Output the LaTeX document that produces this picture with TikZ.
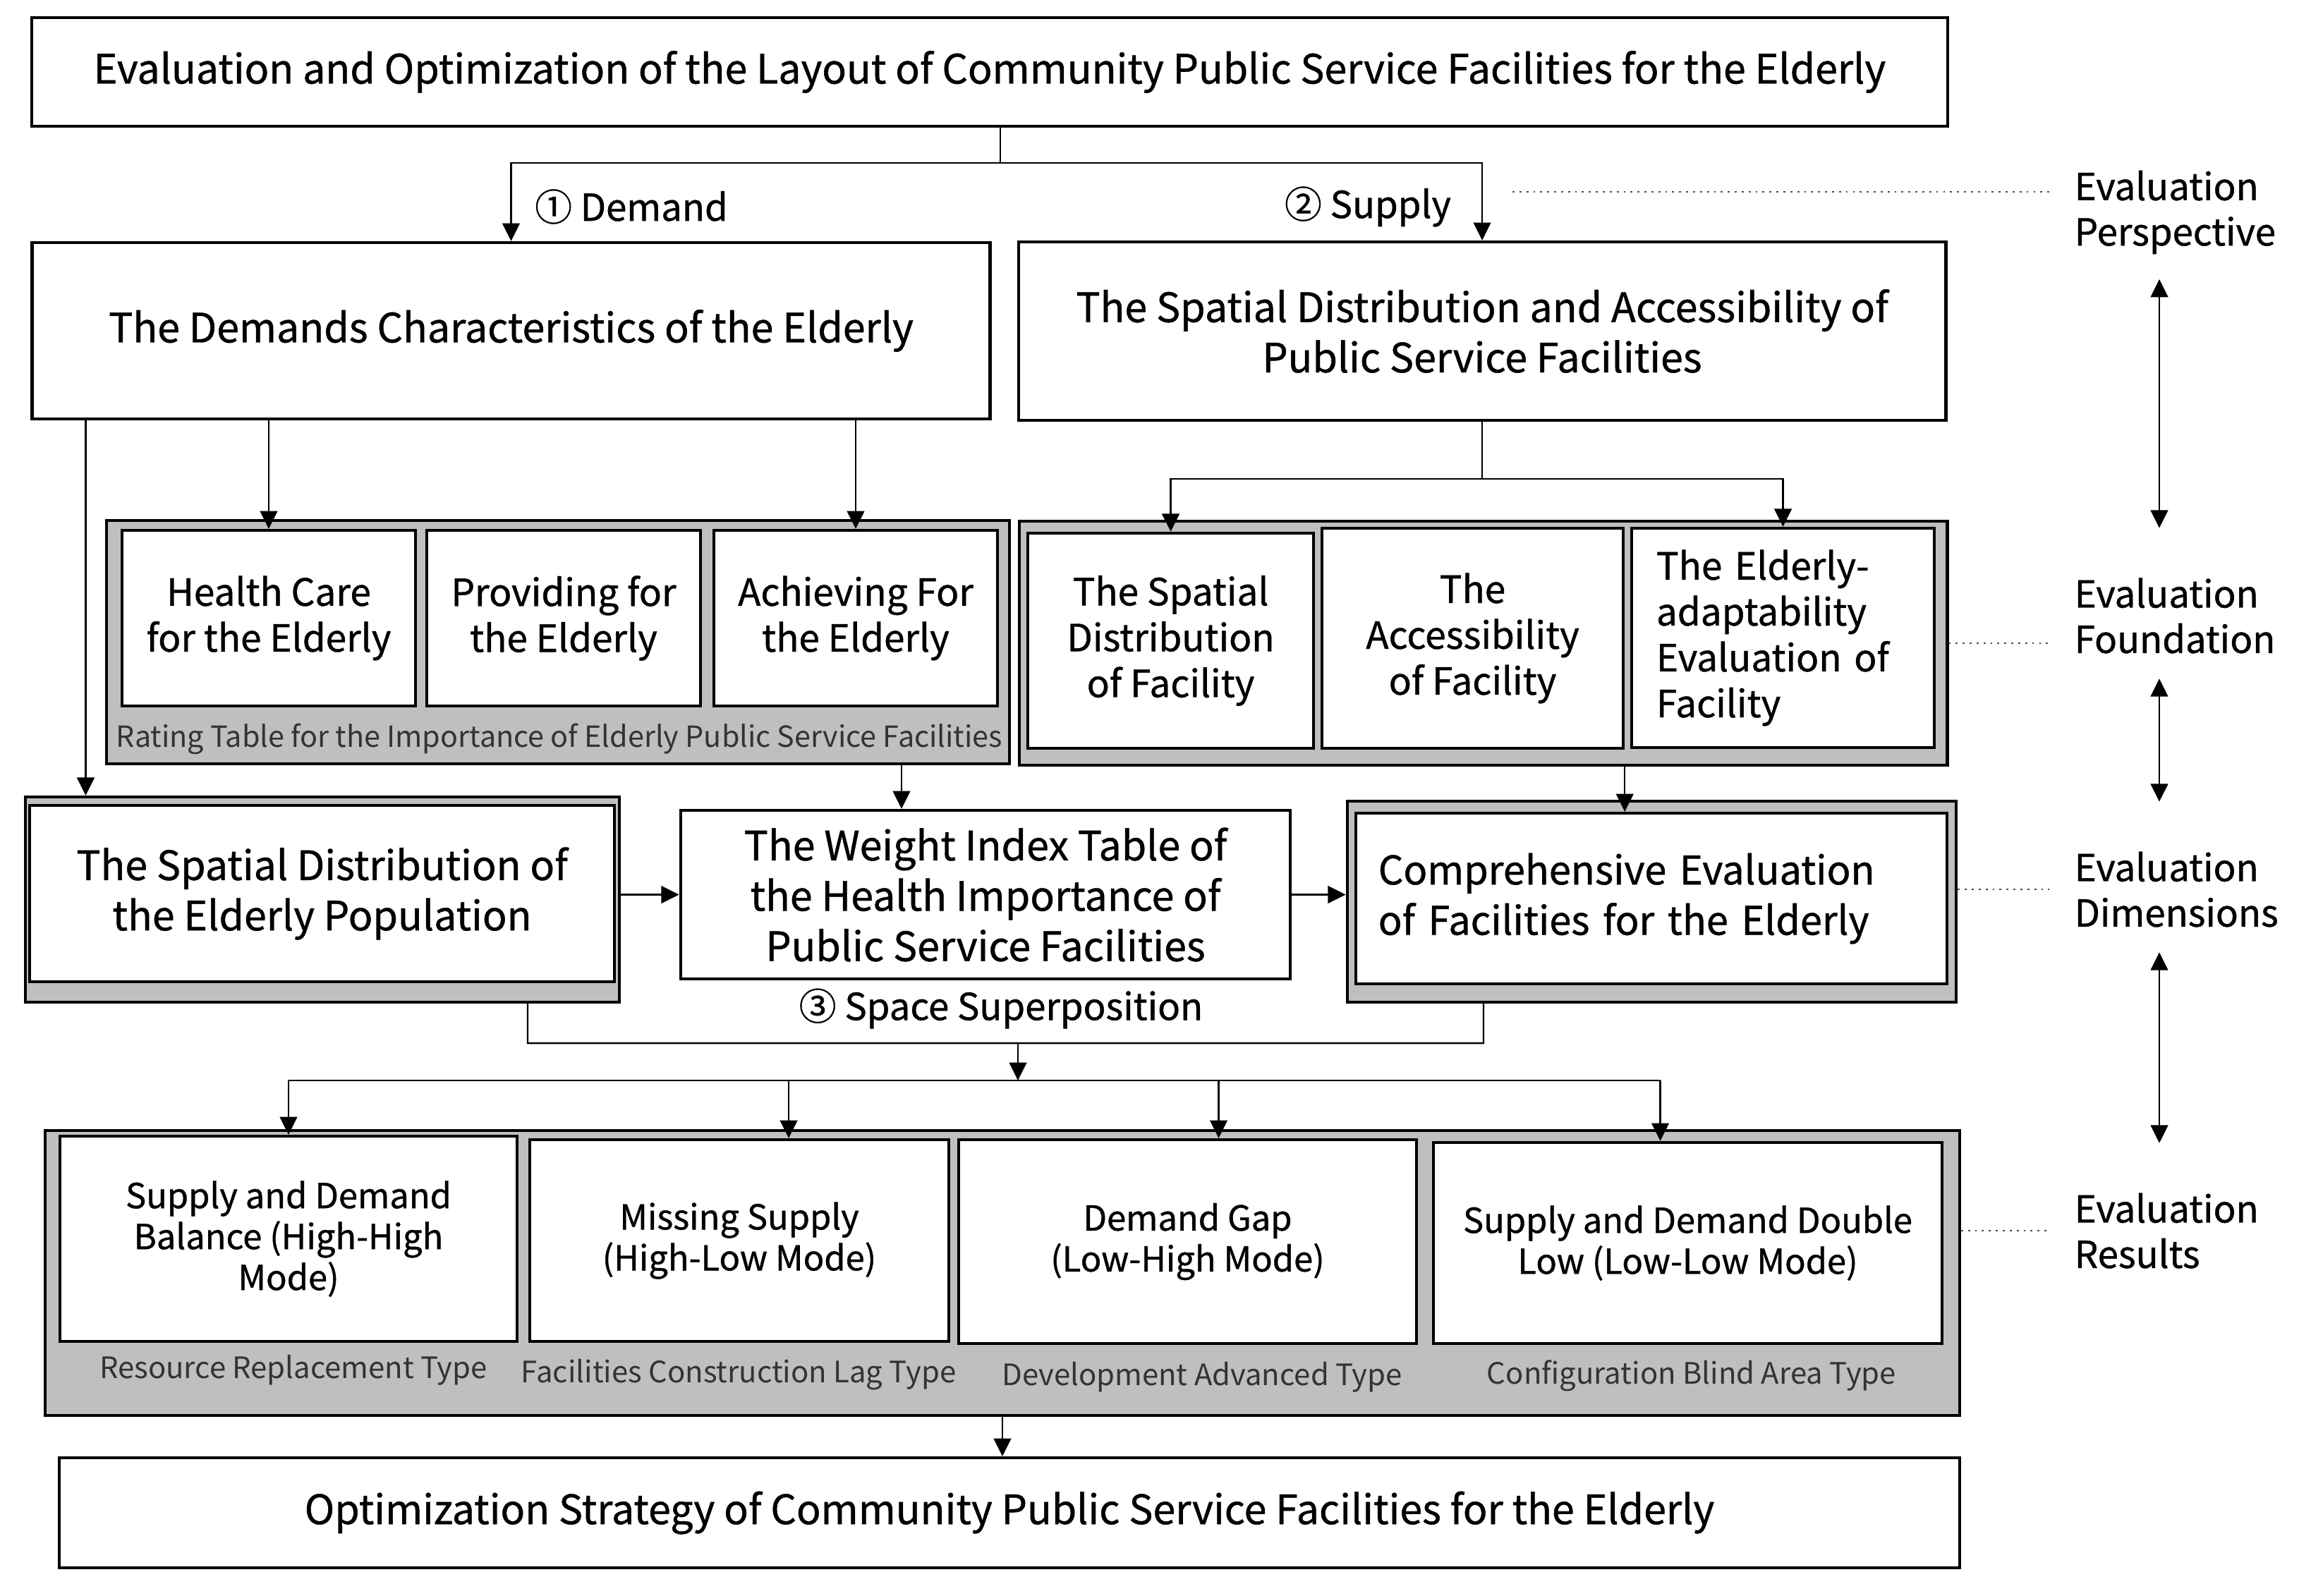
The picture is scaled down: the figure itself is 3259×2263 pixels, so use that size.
\documentclass[tikz,border=0pt]{standalone}
\usepackage{fontspec}
\setmainfont{Noto Sans CJK SC}[FakeBold=0.8]
\newfontfamily\thinfont{Noto Sans CJK SC}
\usetikzlibrary{arrows.meta,calc}
\begin{document}
\begin{tikzpicture}[
	x=0.01cm, y=-0.01cm,
	box/.style={ draw, line width=1.2pt, fill=white, inner sep=0pt, align=center, font=\fontsize{16.3}{20.3}\selectfont },
	sbox/.style={ box, font=\fontsize{15.1}{18.5}\selectfont },
	grp/.style={ draw, line width=1.2pt, fill=gray!50, inner sep=0pt },
	res/.style={ box, font=\fontsize{13.9}{16.5}\selectfont },
	note/.style={ text=black!80, inner sep=0pt, font=\thinfont\fontsize{11.75}{14}\selectfont },
	rnote/.style={ note, font=\thinfont\fontsize{11.9}{14}\selectfont },
	tag/.style={ inner sep=0pt, align=left, font=\fontsize{15}{18.3}\selectfont },
	line/.style={ line width=0.7pt },
	arr/.style={ line width=0.7pt, -{Triangle[length=7.2pt,width=7pt]} },
	dbl/.style={ line width=0.7pt, {Triangle[length=7.2pt,width=7pt]}-{Triangle[length=7.2pt,width=7pt]}, shorten <=0.35cm, shorten >=0.7cm },
	dots/.style={ line width=0.8pt, dotted, black!70 }
]
\useasboundingbox (0,0) rectangle (3259,2263);

\node at (1403,102) (title) [box, minimum width=27.14cm, minimum height=1.54cm] {Evaluation and Optimization of the Layout of Community Public Service Facilities for the Elderly};
\node at (724.5,469) (demand) [box, minimum width=13.57cm, minimum height=2.5cm] {The Demands Characteristics of the Elderly};
\node at (2101,469.5) (supply) [box, minimum width=13.14cm, minimum height=2.53cm] {The Spatial Distribution and Accessibility of\\Public Service Facilities};
\node at (895,293) (ldem) [tag] {① Demand};
\node at (1939,293) (lsup) [tag] {② Supply};

\node at (791,910.5) (dgrp) [grp, minimum width=12.8cm, minimum height=3.45cm] {};
\node at (381,876.5) (health) [sbox, minimum width=4.16cm, minimum height=2.49cm] {Health Care\\for the Elderly};
\node at (799,876.5) (provide) [sbox, minimum width=3.88cm, minimum height=2.49cm] {Providing for\\the Elderly};
\node at (1213,876.5) (achieve) [sbox, minimum width=4.02cm, minimum height=2.49cm] {Achieving For\\the Elderly};
\node at (793,1048) (rating) [note] {Rating Table for the Importance of Elderly Public Service Facilities};

\node at (2102.5,912) (sgrp) [grp, minimum width=13.15cm, minimum height=3.46cm] {};
\node at (1659.5,908.5) (sdist) [sbox, minimum width=4.05cm, minimum height=3.05cm] {The Spatial\\Distribution\\of Facility};
\node at (2087.5,905) (acc) [sbox, minimum width=4.27cm, minimum height=3.12cm] {The\\Accessibility\\of Facility};
\node at (2527.5,904.5) (adapt) [sbox, minimum width=4.29cm, minimum height=3.11cm, text width=3.59cm, inner xsep=0.35cm, align=left] {The Elderly-\\adaptability\\Evaluation of\\Facility};

\node at (457,1275.5) (popbg) [grp, minimum width=8.42cm, minimum height=2.91cm] {};
\node at (456.5,1267) (pop) [box, minimum width=8.29cm, minimum height=2.5cm] {The Spatial Distribution of\\the Elderly Population};
\node at (1397,1268.5) (weight) [box, minimum width=8.64cm, minimum height=2.39cm] {The Weight Index Table of\\the Health Importance of\\Public Service Facilities};
\node at (2341.5,1278.5) (compbg) [grp, minimum width=8.63cm, minimum height=2.85cm] {};
\node at (2341,1274) (comp) [box, minimum width=8.38cm, minimum height=2.42cm, text width=7.74cm, inner xsep=0.32cm, align=left, font=\fontsize{15.9}{20.3}\selectfont] {Comprehensive Evaluation\\of Facilities for the Elderly};
\node at (1419,1430) (lspace) [tag] {③ Space Superposition};

\node at (1421,1805) (rgrp) [grp, minimum width=27.12cm, minimum height=4.04cm] {};
\node at (409,1756.5) (r1) [res, minimum width=6.48cm, minimum height=2.91cm] {Supply and Demand\\Balance (High-High\\Mode)};
\node at (1048,1759) (r2) [res, minimum width=5.94cm, minimum height=2.86cm] {Missing Supply\\(High-Low Mode)};
\node at (1683.5,1760.5) (r3) [res, minimum width=6.49cm, minimum height=2.89cm] {Demand Gap\\(Low-High Mode)};
\node at (2392.5,1762.5) (r4) [res, minimum width=7.21cm, minimum height=2.85cm] {Supply and Demand Double\\Low (Low-Low Mode)};
\node at (416,1943) (c1) [rnote] {Resource Replacement Type};
\node at (1047,1949) (c2) [rnote] {Facilities Construction Lag Type};
\node at (1704,1953) (c3) [rnote] {Development Advanced Type};
\node at (2398,1951) (c4) [rnote] {Configuration Blind Area Type};
\node at (1431,2145) (opt) [box, minimum width=26.92cm, minimum height=1.56cm] {Optimization Strategy of Community Public Service Facilities for the Elderly};

\node at (2940,301) (lper) [tag, anchor=west] {Evaluation\\Perspective};
\node at (2940,873) (lfnd) [tag, anchor=west] {Evaluation\\Foundation};
\node at (2940,1261) (ldim) [tag, anchor=west] {Evaluation\\Dimensions};
\node at (2940,1745) (lres) [tag, anchor=west] {Evaluation\\Results};

\coordinate (split) at (1418,231);
\draw[line] (title.south -| split) -- (split);
\draw[arr] (split) -| (demand.north);
\draw[arr] (split) -| (supply.north);

\coordinate (dleft) at ($(demand.south west)+(78,0)$);
\draw[arr] (dleft) -- (dleft |- popbg.north);
\foreach \b in {health,achieve}
  \draw[arr] (demand.south -| \b) -- (\b.north);

\draw[line] (supply.south) -- ++(0,81) coordinate (ssplit);
\foreach \b in {sdist,adapt}
  \draw[arr] (ssplit) -| (\b.north);

\coordinate (wtop) at ($(weight.north)+(-119,0)$);
\draw[arr] (wtop |- dgrp.south) -- (wtop);
\draw[arr] (acc.east |- sgrp.south) -- (acc.east |- comp.north);
\draw[arr] (popbg.east |- weight.west) -- (weight.west);
\draw[arr] (weight.east) -- (weight.east -| compbg.west);

\coordinate (sl) at ($(popbg.south)+(291,56)$);
\coordinate (sr) at ($(compbg.south)+(-238.5,56)$);
\draw[line] (sl |- popbg.south) -- (sl) -- (sr) -- (sr |- compbg.south);
\coordinate (hub) at (1443,1532);
\draw[arr] (hub |- sl) -- (hub);
\draw[line] (r1.north |- hub) -- ($(r4.north |- hub)+(-39,0)$);
\foreach \b/\dx in {r1/0,r2/70,r3/44,r4/-39}
  \draw[arr] ($(\b.north |- hub)+(\dx,0)$) -- ($(\b.north)+(\dx,0)$);
\draw[arr] (rgrp.south) -- (rgrp.south |- opt.north);

\coordinate (pdot) at (2144,272);
\draw[dots, shorten >=0.35cm] (pdot) -- (pdot -| lper.west);
\draw[dots, shorten >=0.35cm] (sgrp.east) -- (sgrp.east -| lfnd.west);
\draw[dots, shorten >=0.35cm] (compbg.east |- ldim) -- (ldim.west);
\draw[dots, shorten >=0.35cm] (rgrp.east |- lres) -- (lres.west);

\coordinate (axis) at (3061,0);
\draw[dbl] (lper.south -| axis) -- (lfnd.north -| axis);
\draw[dbl] (lfnd.south -| axis) -- (ldim.north -| axis);
\draw[dbl] (ldim.south -| axis) -- (lres.north -| axis);

\end{tikzpicture}
\end{document}
